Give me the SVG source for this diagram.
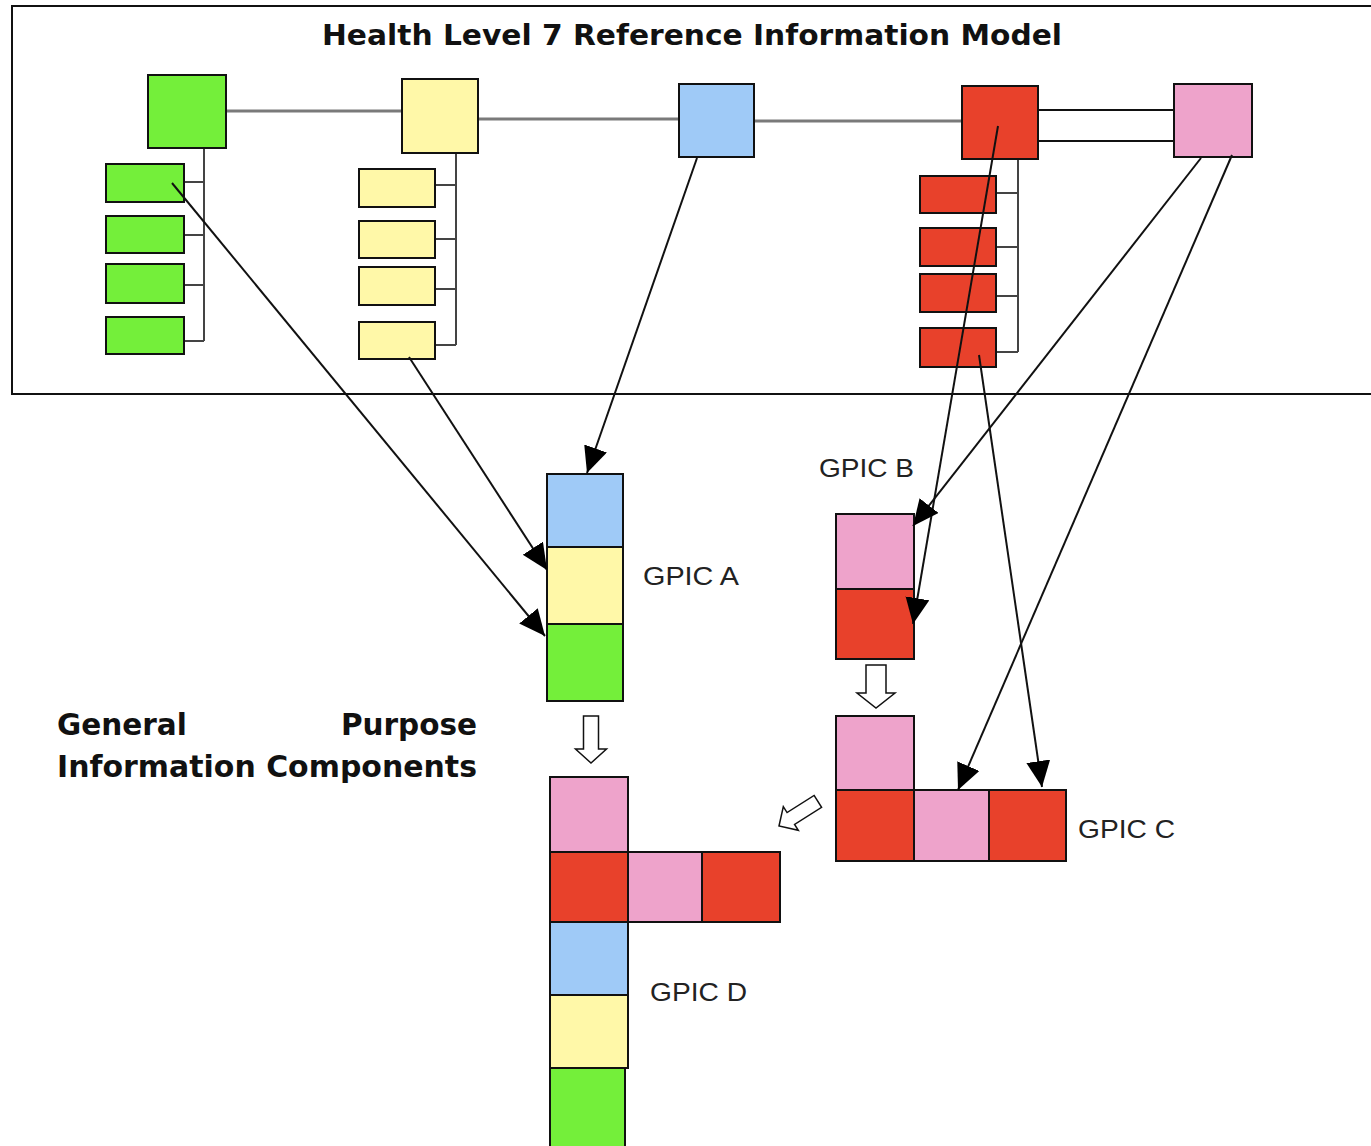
<svg xmlns="http://www.w3.org/2000/svg" width="1371" height="1146" viewBox="0 0 1371 1146">
<style>
.box{stroke:#111;stroke-width:2}
.g{fill:#74EF3A}.y{fill:#FFF8A8}.b{fill:#9FCAF7}.r{fill:#E8412B}.p{fill:#EEA3CB}
.tree{stroke:#444;stroke-width:2;fill:none}
.assoc{stroke:#7a7a7a;stroke-width:3;fill:none}
.assocb{stroke:#111;stroke-width:2;fill:none}
.conn{stroke:#111;stroke-width:2;fill:none;marker-end:url(#ah)}
.hollow{fill:#fff;stroke:#111;stroke-width:1.5}
.title{font-family:"DejaVu Sans",Verdana,sans-serif;font-weight:bold;fill:#111}
.lbl{font-family:"Liberation Sans",Arial,sans-serif;font-size:25px;fill:#222}
</style>
<defs>
<marker id="ah" markerUnits="userSpaceOnUse" markerWidth="28" markerHeight="26" refX="26" refY="12" orient="auto">
<path d="M0,0 L26,12 L0,24 Z" fill="#000"/>
</marker>
</defs>
<rect width="1371" height="1146" fill="#fff"/>
<rect id="frame" x="12" y="6" width="1370" height="388" fill="none" stroke="#111" stroke-width="2"/>
<text class="title" x="322" y="45" font-size="28" textLength="740" lengthAdjust="spacingAndGlyphs">Health Level 7 Reference Information Model</text>

<g id="tree-lines">
<path class="assoc" d="M226,111 H402 M478,119 H679 M754,121 H962"/>
<path class="assocb" d="M1038,110 H1173 M1038,141 H1173"/>
<path class="tree" d="M204,148 V341 M184,182 H204 M184,235 H204 M184,285 H204 M180,341 H204"/>
<path class="tree" d="M456,153 V345 M435,185 H456 M435,239 H456 M435,289 H456 M432,345 H456"/>
<path class="tree" d="M1018,160 V352 M996,193 H1018 M996,247 H1018 M996,296 H1018 M994,352 H1018"/>
</g>

<g id="rim-green">
<rect class="box g" x="148" y="75" width="78" height="73"/>
<rect class="box g" x="106" y="164" width="78" height="38"/>
<rect class="box g" x="106" y="216" width="78" height="37"/>
<rect class="box g" x="106" y="264" width="78" height="39"/>
<rect class="box g" x="106" y="317" width="78" height="37"/>
</g>
<g id="rim-yellow">
<rect class="box y" x="402" y="79" width="76" height="74"/>
<rect class="box y" x="359" y="169" width="76" height="38"/>
<rect class="box y" x="359" y="221" width="76" height="37"/>
<rect class="box y" x="359" y="267" width="76" height="38"/>
<rect class="box y" x="359" y="322" width="76" height="37"/>
</g>
<g id="rim-blue">
<rect class="box b" x="679" y="84" width="75" height="73"/>
</g>
<g id="rim-red">
<rect class="box r" x="962" y="86" width="76" height="73"/>
<rect class="box r" x="920" y="176" width="76" height="37"/>
<rect class="box r" x="920" y="228" width="76" height="38"/>
<rect class="box r" x="920" y="274" width="76" height="38"/>
<rect class="box r" x="920" y="328" width="76" height="39"/>
</g>
<g id="rim-pink">
<rect class="box p" x="1174" y="84" width="78" height="73"/>
</g>

<g id="gpic-a">
<rect class="box b" x="547" y="474" width="76" height="73"/>
<rect class="box y" x="547" y="547" width="76" height="77"/>
<rect class="box g" x="547" y="624" width="76" height="77"/>
<text class="lbl" x="643" y="585" textLength="96" lengthAdjust="spacingAndGlyphs">GPIC A</text>
</g>
<g id="gpic-b">
<rect class="box p" x="836" y="514" width="78" height="75"/>
<rect class="box r" x="836" y="589" width="78" height="70"/>
<text class="lbl" x="819" y="477" textLength="95" lengthAdjust="spacingAndGlyphs">GPIC B</text>
</g>
<g id="gpic-c">
<rect class="box p" x="836" y="716" width="78" height="74"/>
<rect class="box r" x="836" y="790" width="78" height="71"/>
<rect class="box p" x="914" y="790" width="75" height="71"/>
<rect class="box r" x="989" y="790" width="77" height="71"/>
<text class="lbl" x="1078" y="838" textLength="97" lengthAdjust="spacingAndGlyphs">GPIC C</text>
</g>
<g id="gpic-d">
<rect class="box p" x="550" y="777" width="78" height="75"/>
<rect class="box r" x="550" y="852" width="78" height="70"/>
<rect class="box p" x="628" y="852" width="74" height="70"/>
<rect class="box r" x="702" y="852" width="78" height="70"/>
<rect class="box b" x="550" y="922" width="78" height="73"/>
<rect class="box y" x="550" y="995" width="78" height="73"/>
<rect class="box g" x="550" y="1068" width="75" height="90"/>
<text class="lbl" x="650" y="1001" textLength="97" lengthAdjust="spacingAndGlyphs">GPIC D</text>
</g>

<g id="caption">
<text class="title" x="57" y="735" font-size="29.5">General</text>
<text class="title" x="477" y="735" font-size="29.5" text-anchor="end">Purpose</text>
<text class="title" x="57" y="777" font-size="29.5" textLength="420" lengthAdjust="spacingAndGlyphs">Information Components</text>
</g>

<g id="connectors">
<line class="conn" x1="172" y1="183" x2="545" y2="636"/>
<line class="conn" x1="409" y1="357" x2="547" y2="570"/>
<line class="conn" x1="697" y1="158" x2="587" y2="473"/>
<line class="conn" x1="998" y1="126" x2="913" y2="624"/>
<line class="conn" x1="979" y1="355" x2="1042" y2="787"/>
<line class="conn" x1="1201" y1="158" x2="913" y2="526"/>
<line class="conn" x1="1232" y1="155" x2="958" y2="790"/>
<path class="hollow" transform="translate(876,708)" d="M-10,-43 H10 V-15 H19 L0,0 L-19,-15 H-10 Z"/>
<path class="hollow" transform="translate(591,763)" d="M-7.5,-47 H7.5 V-14 H15.5 L0,0 L-15.5,-14 H-7.5 Z"/>
<path class="hollow" transform="translate(779,826) rotate(57.6)" d="M-7,-46 H7 V-14 H14 L0,0 L-14,-14 H-7 Z"/>
</g>
</svg>
